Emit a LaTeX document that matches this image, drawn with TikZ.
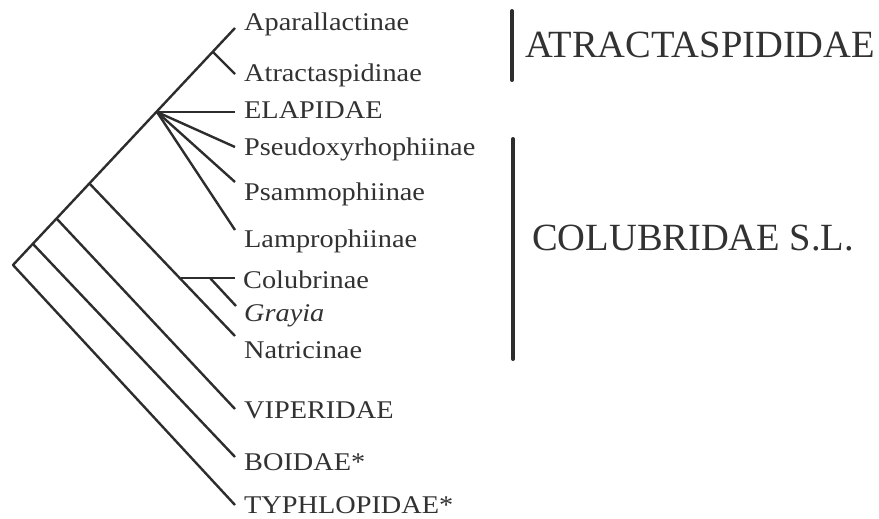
\documentclass[tikz,border=0pt]{standalone}
\usepackage{fontspec}
\setmainfont{Liberation Serif}
\newfontfamily\widefont[FakeStretch=1.11]{Liberation Serif}
\definecolor{ink}{RGB}{45,45,45}
\definecolor{txt}{RGB}{50,50,50}
\tikzset{
  branch/.style={draw=ink, line width=2.4pt, line join=round},
  taxon/.style={anchor=base west, inner sep=0pt, text=txt, font=\widefont\fontsize{25.5}{30}\selectfont},
  group/.style={anchor=base west, inner sep=0pt, text=txt, font=\fontsize{38.5}{44}\selectfont},
  bar/.style={draw=ink, line width=4pt, line cap=round}
}
\begin{document}
\begin{tikzpicture}[x=1pt,y=-1pt]
\useasboundingbox (0,0) rectangle (879,519);
% internal nodes
\coordinate (root) at (13,265);
\coordinate (n1) at (33,244);
\coordinate (n2) at (57,219);
\coordinate (n3) at (89,183);
\coordinate (n4) at (157,112);
\coordinate (atr) at (213,52);
\coordinate (col) at (181,278);
\coordinate (colsub) at (210,278);
% tips
\coordinate (tApa) at (235,28);
\coordinate (tAtr) at (235,74);
\coordinate (tEla) at (235,112);
\coordinate (tPse) at (235,147);
\coordinate (tPsa) at (235,182);
\coordinate (tLam) at (235,230);
\coordinate (tCol) at (235,278);
\coordinate (tGra) at (236,306);
\coordinate (tNat) at (235,336);
\coordinate (tVip) at (235,409);
\coordinate (tBoi) at (235,457);
\coordinate (tTyp) at (235,505);
% branches
\draw[branch] (tTyp) -- (root) -- (tApa);
\draw[branch] (n1) -- (tBoi);
\draw[branch] (n2) -- (tVip);
\draw[branch] (n3) -- (tNat);
\draw[branch] (atr) -- (tAtr);
\draw[branch] (n4) -- (tEla);
\draw[branch] (n4) -- (tPse);
\draw[branch] (n4) -- (tPsa);
\draw[branch] (n4) -- (tLam);
\draw[branch] (col) -- (tCol);
\draw[branch] (colsub) -- (tGra);
% labels
\node[taxon] (lApa) at (244,31) {Aparallactinae};
\node[taxon] (lAtr) at (244,82) {Atractaspidinae};
\node[taxon] (lEla) at (244,118) {ELAPIDAE};
\node[taxon] (lPse) at (244,155) {Pseudoxyrhophiinae};
\node[taxon] (lPsa) at (244,200) {Psammophiinae};
\node[taxon] (lLam) at (244,247) {Lamprophiinae};
\node[taxon] (lCol) at (243,288) {Colubrinae};
\node[taxon] (lGra) at (244,321) {\itshape Grayia};
\node[taxon] (lNat) at (244,358) {Natricinae};
\node[taxon] (lVip) at (244,418) {VIPERIDAE};
\node[taxon] (lBoi) at (244,470) {BOIDAE*};
\node[taxon] (lTyp) at (244,513) {TYPHLOPIDAE*};
% groups
\coordinate (b1t) at (512,11);
\coordinate (b1b) at (512,80);
\coordinate (b2t) at (513,139);
\coordinate (b2b) at (513,359);
\draw[bar] (b1t) -- (b1b);
\draw[bar] (b2t) -- (b2b);
\node[group] (gAtr) at (525,58) {ATRACTASPIDIDAE};
\node[group] (gCol) at (532,250) {COLUBRIDAE S.L.};
\end{tikzpicture}
\end{document}
